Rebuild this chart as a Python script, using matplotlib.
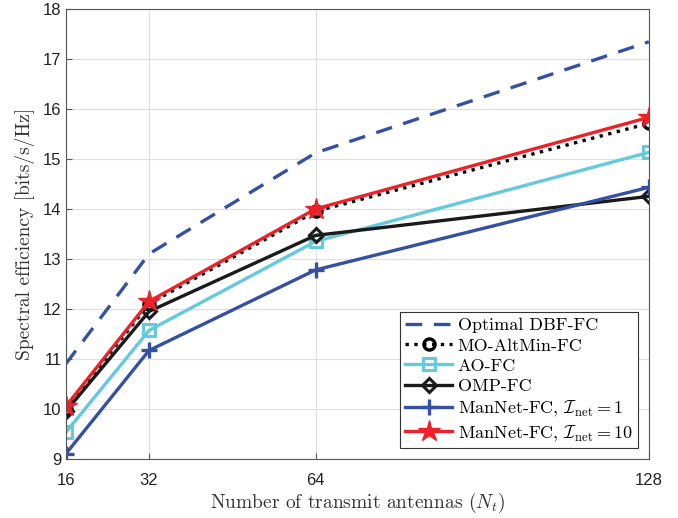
import matplotlib
matplotlib.use("Agg")
import matplotlib.pyplot as plt

# ---- data ----
n_tx = [16, 32, 64, 128]
se_optimal = [10.9, 13.1, 15.12, 17.34]
se_mo_altmin = [10.0, 12.1, 13.95, 15.71]
se_ao = [9.53, 11.57, 13.35, 15.13]
se_omp = [9.95, 11.95, 13.47, 14.25]
se_mannet_1 = [9.1, 11.17, 12.78, 14.43]
se_mannet_10 = [10.05, 12.15, 14.0, 15.83]

labels = ["Optimal DBF-FC", "MO-AltMin-FC", "AO-FC", "OMP-FC",
          r"ManNet-FC, $\mathcal{I}_{\rm net}=1$",
          r"ManNet-FC, $\mathcal{I}_{\rm net}=10$"]

plt.rcParams["mathtext.fontset"] = "cm"

fig = plt.figure(figsize=(6.78, 5.18), dpi=100)
ax = fig.add_axes([0.097, 0.114, 0.860, 0.869])

blue = "#3350a3"
cyan = "#63c9db"
red = "#ee2028"

ax.plot(n_tx, se_optimal, "--", color=blue, lw=2.4, dashes=(5, 3.5), label=labels[0])
ax.plot(n_tx, se_mo_altmin, ":", color="black", lw=2.4, marker="o", ms=8,
        mfc="none", mew=2.4, label=labels[1])
ax.plot(n_tx, se_ao, "-", color=cyan, lw=2.4, marker="s", ms=8,
        mfc="none", mew=2.2, label=labels[2])
ax.plot(n_tx, se_omp, "-", color="#1a1a1a", lw=2.4, marker="D", ms=7.5,
        mfc="none", mew=2.2, label=labels[3])
ax.plot(n_tx, se_mannet_1, "-", color=blue, lw=2.4, marker="+", ms=11,
        mew=2.4, label=labels[4])
ax.plot(n_tx, se_mannet_10, "-", color=red, lw=2.4, marker="*", ms=16,
        mfc=red, mec=red, label=labels[5])

ax.set_xlim(16, 128)
ax.set_ylim(9, 18)
ax.set_xticks(n_tx)
ax.set_yticks(range(9, 19))
ax.grid(True, color="#dedede", lw=0.8)
ax.set_axisbelow(True)
for s in ax.spines.values():
    s.set_color("#555555")
    s.set_linewidth(0.8)
ax.tick_params(direction="in", length=4, color="#555555", labelsize=12,
               labelcolor="#222222")
ax.tick_params(axis="x", pad=10)
ax.tick_params(axis="y", pad=3)
for t in ax.get_xticklabels() + ax.get_yticklabels():
    t.set_family("Liberation Sans")

ax.set_xlabel(r"Number of transmit antennas ($N_t$)", family="cmr10",
              fontsize=14, color="#333333", labelpad=2)
ax.set_ylabel("Spectral efficiency [bits/s/Hz]", family="cmr10",
              fontsize=14, color="#333333", labelpad=6)

leg = ax.legend(loc="lower right", prop={"family": "cmr10", "size": 13},
                fancybox=False, framealpha=1, edgecolor="#333333",
                handlelength=2.6, handletextpad=0.3, borderpad=0.3,
                labelspacing=0.25, borderaxespad=0.6)
leg.get_frame().set_linewidth(0.8)

fig.savefig("out.png", dpi=100)
